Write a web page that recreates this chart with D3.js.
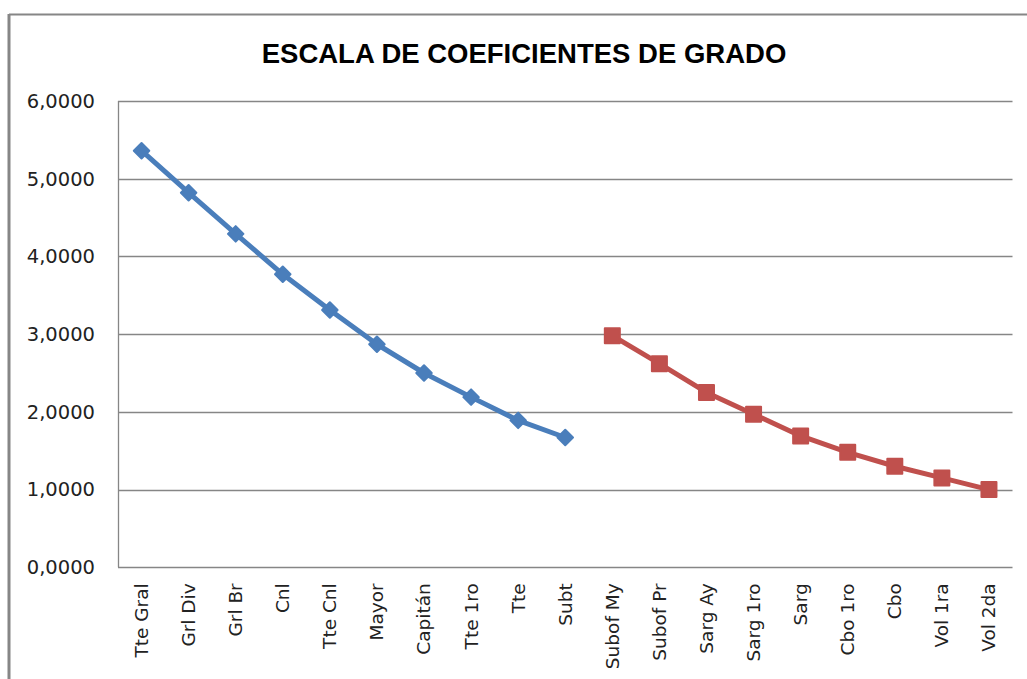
<!DOCTYPE html>
<html>
<head>
<meta charset="utf-8">
<script src="https://cdn.jsdelivr.net/npm/d3@7"></script>
<style>
  body { margin: 0; background: #fff; }
  svg { display: block; }
</style>
</head>
<body>
<svg></svg>
<script>
var categories = ["Tte Gral", "Grl Div", "Grl Br", "Cnl", "Tte Cnl", "Mayor", "Capitán", "Tte 1ro", "Tte", "Subt",
                  "Subof My", "Subof Pr", "Sarg Ay", "Sarg 1ro", "Sarg", "Cbo 1ro", "Cbo", "Vol 1ra", "Vol 2da"];
var oficiales = [5.36, 4.82, 4.29, 3.77, 3.31, 2.87, 2.50, 2.19, 1.89, 1.67,
                 null, null, null, null, null, null, null, null, null];
var suboficiales = [null, null, null, null, null, null, null, null, null, null,
                    2.98, 2.62, 2.25, 1.97, 1.69, 1.48, 1.30, 1.15, 1.00];
var yTicks = [0, 1, 2, 3, 4, 5, 6];
var title = "ESCALA DE COEFICIENTES DE GRADO";

var screen = {width: 1027, height: 679};
var plot = {left: 118, top: 101, right: 1012.5, bottom: 567.3};

var svg = d3.select("svg")
    .attr("width", screen.width)
    .attr("height", screen.height);

// outer frame (only top and left edges visible)
svg.append("line")
    .attr("x1", 9).attr("x2", screen.width)
    .attr("y1", 14.5).attr("y2", 14.5)
    .attr("stroke", "#868686").attr("stroke-width", 2);
svg.append("line")
    .attr("x1", 9).attr("x2", 9)
    .attr("y1", 14).attr("y2", screen.height)
    .attr("stroke", "#868686").attr("stroke-width", 3);

svg.append("text")
    .attr("x", 524)
    .attr("y", 63)
    .attr("text-anchor", "middle")
    .style("font-family", "'Liberation Sans', Arial, sans-serif")
    .style("font-weight", "bold")
    .style("font-size", "27.5px")
    .attr("fill", "#000")
    .text(title);

var xScale = d3.scaleBand()
    .domain(categories)
    .range([plot.left, plot.right]);

var yScale = d3.scaleLinear()
    .domain([0, 6])
    .range([plot.bottom, plot.top]);

var locale = d3.formatLocale({decimal: ",", thousands: ".", grouping: [3], currency: ["", ""]});
var fmt = locale.format(".4f");

// gridlines
svg.append("g")
    .selectAll("line")
    .data(yTicks)
    .enter()
    .append("line")
    .attr("x1", plot.left)
    .attr("x2", plot.right)
    .attr("y1", function(d){ return Math.round(yScale(d)) + 0.5; })
    .attr("y2", function(d){ return Math.round(yScale(d)) + 0.5; })
    .attr("stroke", "#868686")
    .attr("stroke-width", 1.3);

svg.append("line")
    .attr("x1", plot.left + 0.5).attr("x2", plot.left + 0.5)
    .attr("y1", plot.top).attr("y2", plot.bottom)
    .attr("stroke", "#868686").attr("stroke-width", 1.3);

// y tick labels
svg.append("g")
    .selectAll("text")
    .data(yTicks)
    .enter()
    .append("text")
    .attr("x", 95)
    .attr("y", function(d){ return yScale(d); })
    .attr("dy", "0.35em")
    .attr("text-anchor", "end")
    .style("font-family", "'DejaVu Sans', Verdana, sans-serif")
    .style("font-size", "19.5px")
    .attr("fill", "#222")
    .text(fmt);

var xAxis = d3.axisBottom(xScale).tickSize(0);

svg.append("g")
    .attr("transform", "translate(0," + plot.bottom + ")")
    .call(xAxis)
    .call(function(g){ g.select(".domain").remove(); })
    .selectAll("text")
    .attr("transform", "rotate(-90)")
    .attr("x", -16)
    .attr("y", 0)
    .attr("dy", "0.35em")
    .attr("text-anchor", "end")
    .style("font-family", "'DejaVu Sans', Verdana, sans-serif")
    .style("font-size", "18.5px")
    .attr("fill", "#222");

var drawSeries = function(values, color, shape, size, angle){
    var pts = categories.map(function(c, i){ return {cat: c, v: values[i]}; });
    var line = d3.line()
        .defined(function(d){ return d.v != null; })
        .x(function(d){ return xScale(d.cat) + xScale.bandwidth() / 2; })
        .y(function(d){ return yScale(d.v); });
    svg.append("path")
        .datum(pts)
        .attr("d", line)
        .attr("fill", "none")
        .attr("stroke", color)
        .attr("stroke-width", 5)
        .attr("stroke-linejoin", "round");
    svg.append("g")
        .selectAll("path")
        .data(pts.filter(function(d){ return d.v != null; }))
        .enter()
        .append("path")
        .attr("d", d3.symbol().type(shape).size(size))
        .attr("transform", function(d){
            return "translate(" + (xScale(d.cat) + xScale.bandwidth() / 2) + "," + yScale(d.v) + ") rotate(" + angle + ")";
        })
        .attr("fill", color)
        .attr("stroke", color)
        .attr("stroke-width", 2)
        .attr("stroke-linejoin", "round");
};

drawSeries(oficiales, "#4A7EBB", d3.symbolSquare, 120, 45);
drawSeries(suboficiales, "#C0504D", d3.symbolSquare, 225, 0);
</script>
</body>
</html>
